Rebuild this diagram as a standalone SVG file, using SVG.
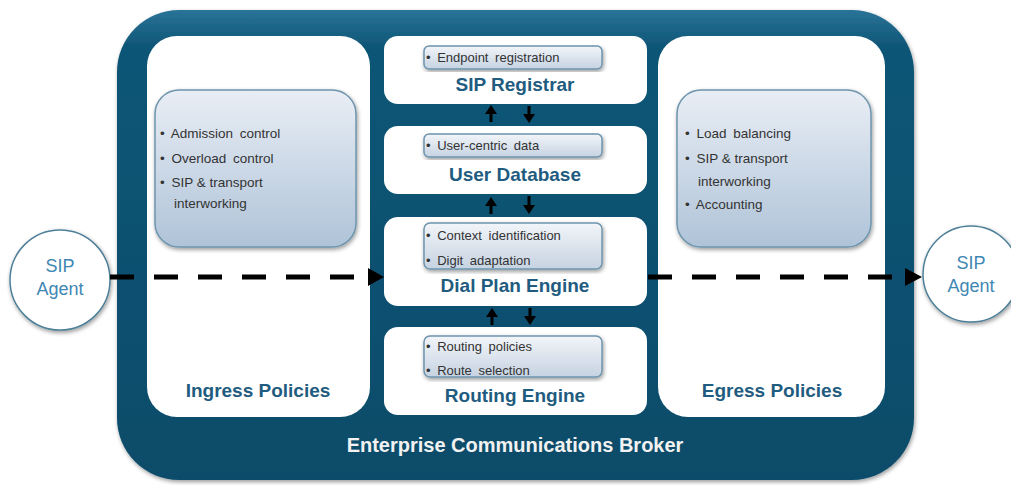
<svg xmlns="http://www.w3.org/2000/svg" width="1011" height="485" viewBox="0 0 1011 485">
<defs>
<linearGradient id="outerG" x1="0" y1="0" x2="0" y2="1">
<stop offset="0" stop-color="#2a7398"/>
<stop offset="0.08" stop-color="#0e5576"/>
<stop offset="1" stop-color="#084c6a"/>
</linearGradient>
<linearGradient id="policyG" x1="0" y1="0" x2="0" y2="1">
<stop offset="0" stop-color="#e9eef5"/>
<stop offset="1" stop-color="#afc3d8"/>
</linearGradient>
<linearGradient id="subG" x1="0" y1="0" x2="0" y2="1">
<stop offset="0" stop-color="#f2f5f9"/>
<stop offset="1" stop-color="#c6d3e2"/>
</linearGradient>
<filter id="shadow" x="-10%" y="-10%" width="120%" height="120%">
<feGaussianBlur in="SourceAlpha" stdDeviation="2"/>
<feOffset dx="1" dy="2" result="b"/>
<feComponentTransfer><feFuncA type="linear" slope="0.4"/></feComponentTransfer>
<feMerge><feMergeNode/><feMergeNode in="SourceGraphic"/></feMerge>
</filter>
</defs>
<style>
.panel{fill:#fff;}
.policy{fill:url(#policyG);stroke:#6e95ad;stroke-width:1.5;}
.sub{fill:url(#subG);stroke:#6e95ad;stroke-width:1.5;}
.bul{font-family:"Liberation Sans",Arial,sans-serif;font-size:13.5px;fill:#333;word-spacing:3px;}
.bulS{font-family:"Liberation Sans",Arial,sans-serif;font-size:13px;fill:#333;word-spacing:3px;}
.tight{word-spacing:0px;}
.title{font-family:"Liberation Sans",Arial,sans-serif;font-size:19px;font-weight:bold;fill:#1f5c80;text-anchor:middle;}
.broker{font-family:"Liberation Sans",Arial,sans-serif;font-size:20px;font-weight:bold;fill:#f2f2f2;text-anchor:middle;}
.agent{fill:#fff;stroke:#4e8098;stroke-width:1.5;}
.agentT{font-family:"Liberation Sans",Arial,sans-serif;font-size:18px;fill:#3f87b3;text-anchor:middle;}
.dash{stroke:#000;stroke-width:5;fill:none;stroke-dasharray:24 20;}
.link{stroke:#000;stroke-width:3;fill:none;}
.head{fill:#000;}
</style>

<g id="broker">
<rect x="117" y="10" width="797" height="470" rx="62" fill="url(#outerG)" filter="url(#shadow)"/>
<text class="broker" x="515" y="452">Enterprise Communications Broker</text>
</g>

<g id="ingress">
<rect class="panel" x="147" y="36" width="223" height="381" rx="30"/>
<rect class="policy" x="155" y="90" width="201" height="157" rx="24" filter="url(#shadow)"/>
<text class="bul" x="160" y="138">• Admission control</text>
<text class="bul" x="160" y="163">• Overload control</text>
<text class="bul" x="160" y="187">• <tspan class="tight">SIP &amp; transport</tspan></text>
<text class="bul" x="174" y="208">interworking</text>
<text class="title" x="258" y="397">Ingress Policies</text>
</g>

<g id="egress">
<rect class="panel" x="658" y="36" width="227" height="381" rx="30"/>
<rect class="policy" x="677" y="90" width="194" height="157" rx="24" filter="url(#shadow)"/>
<text class="bul" x="685" y="138">• Load balancing</text>
<text class="bul" x="685" y="163">• <tspan class="tight">SIP &amp; transport</tspan></text>
<text class="bul" x="698" y="186">interworking</text>
<text class="bul" x="685" y="209">• Accounting</text>
<text class="title" x="772" y="397">Egress Policies</text>
</g>

<g id="sip-registrar">
<rect class="panel" x="384" y="36" width="263" height="68" rx="14"/>
<rect class="sub" x="424" y="46" width="178" height="23" rx="5" filter="url(#shadow)"/>
<text class="bulS" x="426" y="62">• Endpoint registration</text>
<text class="title" x="515" y="91">SIP Registrar</text>
</g>

<g id="user-database">
<rect class="panel" x="384" y="126" width="263" height="68" rx="14"/>
<rect class="sub" x="424" y="134" width="178" height="23" rx="5" filter="url(#shadow)"/>
<text class="bulS" x="426" y="150">• User-centric data</text>
<text class="title" x="515" y="181">User Database</text>
</g>

<g id="dial-plan-engine">
<rect class="panel" x="384" y="217" width="263" height="89" rx="14"/>
<rect class="sub" x="424" y="223" width="178" height="46" rx="6" filter="url(#shadow)"/>
<text class="bulS" x="426" y="240">• Context identification</text>
<text class="bulS" x="426" y="265">• Digit adaptation</text>
<text class="title" x="515" y="292">Dial Plan Engine</text>
</g>

<g id="routing-engine">
<rect class="panel" x="384" y="327" width="263" height="88" rx="14"/>
<rect class="sub" x="424" y="336" width="178" height="41" rx="6" filter="url(#shadow)"/>
<text class="bulS" x="426" y="351">• Routing policies</text>
<text class="bulS" x="426" y="375">• Route selection</text>
<text class="title" x="515" y="402">Routing Engine</text>
</g>

<g id="sip-agent-left">
<circle class="agent" cx="60" cy="280" r="50" filter="url(#shadow)"/>
<text class="agentT" x="60" y="272">SIP</text>
<text class="agentT" x="60" y="295">Agent</text>
</g>

<g id="sip-agent-right">
<circle class="agent" cx="971" cy="274" r="48" filter="url(#shadow)"/>
<text class="agentT" x="971" y="269">SIP</text>
<text class="agentT" x="971" y="292">Agent</text>
</g>

<g id="connectors">
<line class="dash" x1="110" y1="277" x2="375" y2="277"/>
<path class="head" d="M368,268 L384,277 L368,286 z"/>
<line class="dash" x1="648" y1="277" x2="912" y2="277"/>
<path class="head" d="M905,268 L922,277 L905,286 z"/>

<line class="link" x1="491" y1="122" x2="491" y2="112"/>
<path class="head" d="M485,114 L491,105 L497,114 z"/>
<line class="link" x1="529" y1="106" x2="529" y2="116"/>
<path class="head" d="M523,114 L529,123 L535,114 z"/>

<line class="link" x1="491" y1="214" x2="491" y2="204"/>
<path class="head" d="M485,206 L491,197 L497,206 z"/>
<line class="link" x1="529" y1="196" x2="529" y2="206"/>
<path class="head" d="M523,205 L529,214 L535,205 z"/>

<line class="link" x1="492" y1="325" x2="492" y2="315"/>
<path class="head" d="M486,317 L492,308 L498,317 z"/>
<line class="link" x1="530" y1="308" x2="530" y2="318"/>
<path class="head" d="M524,316 L530,325 L536,316 z"/>
</g>
</svg>
